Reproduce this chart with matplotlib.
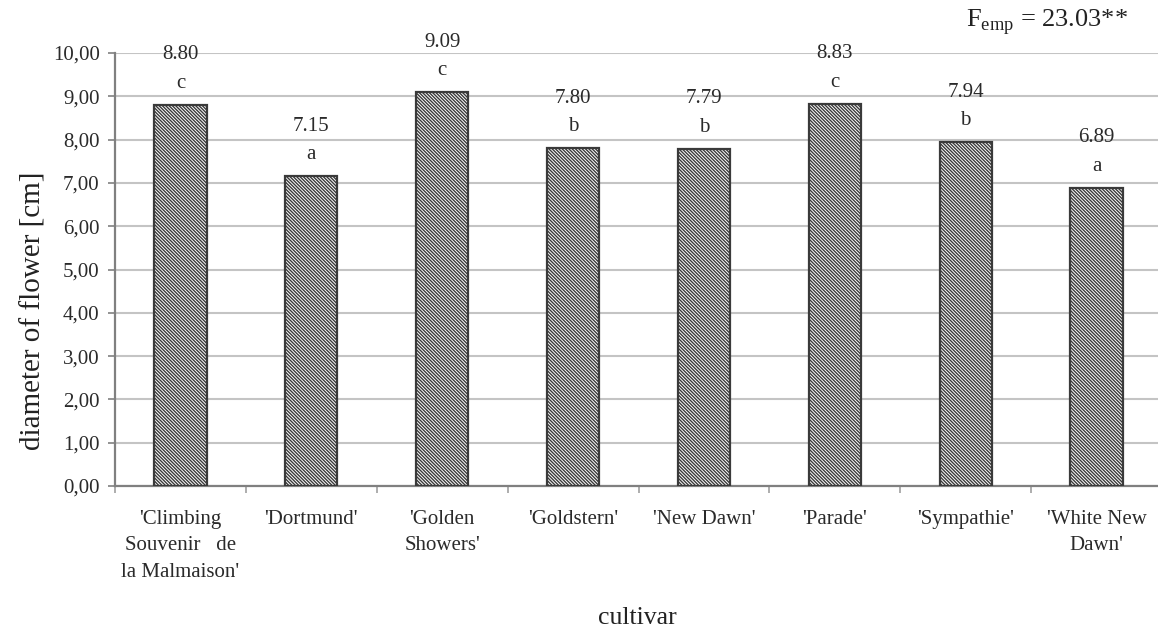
import matplotlib
matplotlib.use("Agg")
import matplotlib.pyplot as plt
import numpy as np

# Data.

cultivars = ["'Climbing\nSouvenir   de\nla Malmaison'", "'Dortmund'",
             "'Golden\nShowers'", "'Goldstern'", "'New Dawn'", "'Parade'",
             "'Sympathie'", "'White New\nDawn'"]
diameters = [8.80, 7.15, 9.09, 7.80, 7.79, 8.83, 7.94, 6.89]
groups = ["c", "a", "c", "b", "b", "c", "b", "a"]
y_ticks = [0., 1., 2., 3., 4., 5., 6., 7., 8., 9., 10.]

plt.rcParams['font.family'] = ['Liberation Serif', 'DejaVu Serif']
plt.rcParams['mathtext.fontset'] = 'custom'
plt.rcParams['mathtext.rm'] = 'Liberation Serif'
plt.rcParams['hatch.linewidth'] = 1.0
plt.rcParams['hatch.color'] = '#333333'

text_colour = '#2a2a2a'

fig = plt.figure(figsize=(11.58, 6.30), dpi=100)
axes = fig.add_axes([115. / 1158., 144. / 630., 1047. / 1158., 433. / 630.])

x = np.arange(len(cultivars))

axes.bar(x, diameters, width=0.4, color='white', edgecolor='#3a3a3a',
         linewidth=1.6, hatch='\\' * 10, zorder=3)

# Value and group labels above bars.

for xi, d, g in zip(x, diameters, groups):
    axes.annotate("{0:.2f}".format(d), (xi, d), xytext=(0, 36.),
                  textcoords='offset points', ha='center', va='center',
                  fontsize=15, color=text_colour)
    axes.annotate(g, (xi, d), xytext=(0, 15.5),
                  textcoords='offset points', ha='center', va='center',
                  fontsize=15, color=text_colour)

# Axes ranges and ticks.

axes.set_xlim(-0.5, len(cultivars) - 0.5)
axes.set_ylim(0., 10.)

axes.set_yticks(y_ticks)
axes.set_yticklabels(["{0:.2f}".format(v).replace('.', ',') for v in y_ticks])
axes.tick_params(axis='y', length=5, width=1.2, color='#808080', pad=6,
                 labelsize=15, labelcolor=text_colour)

axes.set_xticks(np.arange(len(cultivars) + 1) - 0.5)
axes.set_xticklabels([])
axes.tick_params(axis='x', which='major', length=5, width=1.2,
                 color='#a0a0a0')
axes.set_xticks(x, minor=True)
axes.set_xticklabels(cultivars, minor=True, linespacing=1.55)
axes.tick_params(axis='x', which='minor', length=0, pad=17, labelsize=15,
                 labelcolor=text_colour)

axes.grid(axis='y', color='#c4c4c4', linewidth=1.5, zorder=0)
axes.set_axisbelow(True)

for side in ['top', 'right']:
    axes.spines[side].set_visible(False)
for side in ['left', 'bottom']:
    axes.spines[side].set_color('#808080')
    axes.spines[side].set_linewidth(1.6)

axes.set_ylabel("diameter of flower [cm]", fontsize=21, color='#222222')
axes.yaxis.set_label_coords(-68. / 1047., (486. - 311.) / 433.)
fig.text(637. / 1158., 1. - 618. / 630., "cultivar", ha='center',
         va='center', fontsize=18.5, color='#222222')

fig.text(1128. / 1158., 1. - 22. / 630., r"F$_{\mathrm{emp}}$ = 23.03**",
         ha='right', va='center', fontsize=19, color='#222222')

plt.savefig("out.png", dpi=100)
plt.close()
